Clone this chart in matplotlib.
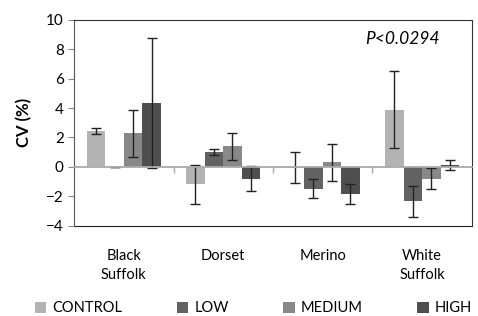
import numpy as np
import matplotlib.pyplot as plt
from matplotlib.ticker import FixedLocator

plt.rcParams['font.family'] = ['Lato', 'DejaVu Sans']

# Data
breeds = ['Black\nSuffolk', 'Dorset', 'Merino', 'White\nSuffolk']
groups = ['CONTROL', 'LOW', 'MEDIUM', 'HIGH']
means = {
    'CONTROL': [2.45, -1.2, -0.05, 3.9],
    'LOW': [0.02, 1.0, -1.5, -2.35],
    'MEDIUM': [2.3, 1.4, 0.3, -0.8],
    'HIGH': [4.35, -0.8, -1.85, 0.15],
}
errors = {
    'CONTROL': [0.2, 1.3, 1.05, 2.6],
    'LOW': [0.0, 0.2, 0.65, 1.05],
    'MEDIUM': [1.6, 0.9, 1.25, 0.7],
    'HIGH': [4.4, 0.85, 0.65, 0.35],
}
colors = ['#b3b3b3', '#626262', '#888888', '#4f4f4f']

fig = plt.figure(figsize=(4.78, 3.16), dpi=100)
ax = fig.add_axes([0.155, 0.286, 0.832, 0.651])

x = np.arange(len(breeds))
width = 0.186
for i, g in enumerate(groups):
    ax.bar(x + (i - 1.5) * width, means[g], width, color=colors[i],
           yerr=errors[g], capsize=3.5, error_kw=dict(ecolor='#222222', elinewidth=1, capthick=1),
           label=g, zorder=2)

ax.set_xlim(-0.5, len(breeds) - 0.5)
ax.set_ylim(-4, 10)
ax.set_yticks(np.arange(-4, 11, 2))
ax.tick_params(axis='y', direction='out', length=4, color='#888888', labelsize=11)
ax.set_ylabel('CV (%)', fontsize=12, fontweight='bold', labelpad=10)

# category axis crossing at zero
ax.spines['bottom'].set_position(('data', 0))
ax.spines['bottom'].set_color('#aaaaaa')
ax.spines['bottom'].set_linewidth(1.3)
ax.spines['bottom'].set_zorder(3)
ax.set_xticks([])
ax.xaxis.set_minor_locator(FixedLocator(x[1:] - 0.5))
ax.tick_params(axis='x', which='minor', direction='out', length=4, color='#aaaaaa', width=1)
for s in ['top', 'right']:
    ax.spines[s].set_color('#333333')
ax.spines['left'].set_color('#555555')

sec = ax.secondary_xaxis('bottom')
sec.set_xticks(x, breeds, fontsize=10.5, linespacing=1.45)
sec.tick_params(length=0, pad=17)
sec.spines['bottom'].set_color('#222222')

ax.text(0.92, 0.908, 'P<0.0294', transform=ax.transAxes, ha='right', va='center',
        fontsize=12.5, style='italic')

fig.legend(loc='lower left', bbox_to_anchor=(0.06, -0.016, 0.94, 0.05), ncol=4, mode='expand',
           frameon=False, fontsize=10.5, handlelength=0.8, handleheight=0.8,
           handletextpad=0.4, borderaxespad=0.0)

fig.savefig('out.png', dpi=100)
